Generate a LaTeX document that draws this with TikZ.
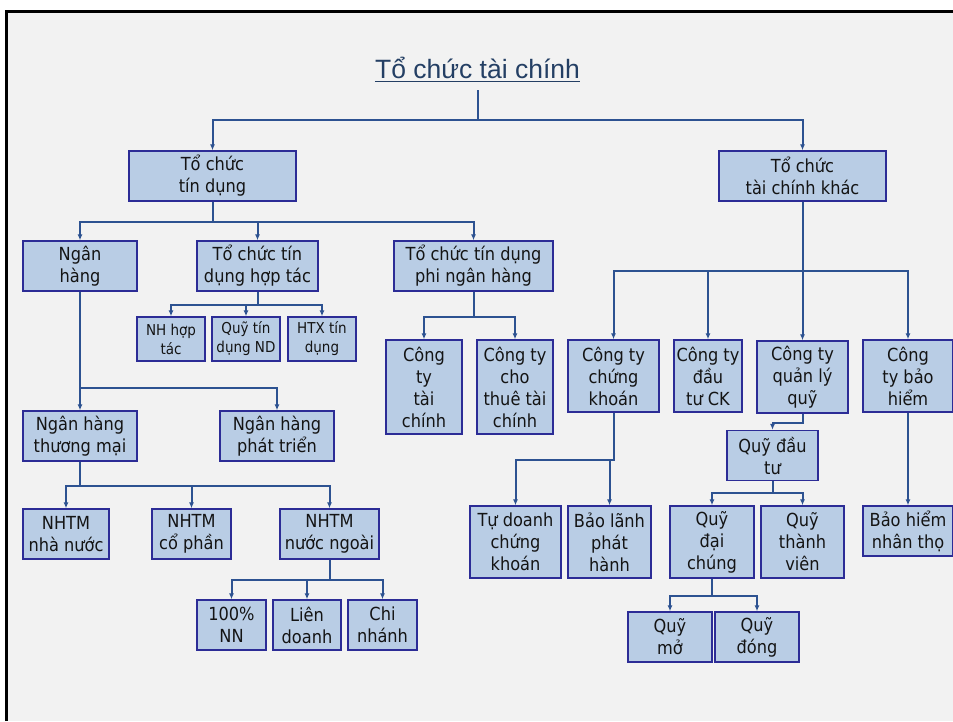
\documentclass[tikz,border=0pt]{standalone}
\usepackage{fontspec}
\setmainfont{DejaVu Sans Condensed}
\newfontfamily\titlefont{Liberation Sans}
\usetikzlibrary{arrows.meta}
\definecolor{bgc}{HTML}{F2F2F2}
\definecolor{boxfill}{HTML}{B9CDE5}
\definecolor{boxline}{RGB}{44,44,150}
\definecolor{conncol}{RGB}{45,82,145}
\definecolor{titlecol}{RGB}{36,63,100}
\definecolor{txtcol}{HTML}{141414}
\tikzset{
  box/.style={draw=boxline, line width=1.4pt, fill=boxfill, inner sep=0pt, align=center,
    text=txtcol, font=\fontsize{18}{22}\selectfont},
  sbox/.style={box, font=\fontsize{15}{19}\selectfont},
  conn/.style={draw=conncol, line width=2pt},
  arr/.style={conn, -{Latex[length=6pt,width=5pt]}}
}
\begin{document}
\begin{tikzpicture}[x=1pt,y=-1pt]
\useasboundingbox (0,0) rectangle (953,721);
\fill[white] (0,0) rectangle (953,721);
\fill[bgc] (6.5,11.5) rectangle (953,721);
\draw[line width=3pt] (6.5,721) -- (6.5,11.5) -- (953,11.5);

% title
\node[inner sep=0pt, anchor=base, text=titlecol, font=\titlefont\fontsize{26.5}{30}\selectfont] (title) at (477.5,78) {Tổ chức tài chính};
\draw[titlecol, line width=1.5pt] ([yshift=-3.5pt]title.base west) -- ([yshift=-3.5pt]title.base east);
\coordinate (t0) at (477.5,90);

% level 1
\node[box, minimum width=167pt, minimum height=50pt] (tctd) at (212.5,176) {Tổ chức\\tín dụng};
\node[box, minimum width=167pt, minimum height=50pt] (tctck) at (802.5,176) {Tổ chức\\tài chính khác};

% level 2 left
\node[box, minimum width=114pt, minimum height=50pt] (nh) at (80,266) {Ngân\\hàng};
\node[box, minimum width=121pt, minimum height=50pt] (tdht) at (257.5,266) {Tổ chức tín\\dụng hợp tác};
\node[box, minimum width=159pt, minimum height=50pt] (pnh) at (473.5,266) {Tổ chức tín dụng\\phi ngân hàng};

\node[sbox, minimum width=68pt, minimum height=44pt] (nhht) at (171,339) {NH hợp\\tác};
\node[sbox, minimum width=68pt, minimum height=44pt] (qtd) at (246,339) {Quỹ tín\\dụng ND};
\node[sbox, minimum width=68pt, minimum height=44pt] (htx) at (322,339) {HTX tín\\dụng};

\node[box, minimum width=114pt, minimum height=50pt] (nhtm) at (80,436) {Ngân hàng\\thương mại};
\node[box, minimum width=114pt, minimum height=50pt] (nhpt) at (277,436) {Ngân hàng\\phát triển};

\node[box, minimum width=86pt, minimum height=50pt] (nn) at (66,534) {NHTM\\nhà nước};
\node[box, minimum width=79pt, minimum height=50pt] (cp) at (191.5,534) {NHTM\\cổ phần};
\node[box, minimum width=99pt, minimum height=50pt] (ng) at (329.5,534) {NHTM\\nước ngoài};

\node[box, minimum width=69pt, minimum height=50pt] (n100) at (231.5,625) {100\%\\NN};
\node[box, minimum width=68pt, minimum height=50pt] (ld) at (307,625) {Liên\\doanh};
\node[box, minimum width=69pt, minimum height=50pt] (cn) at (382.5,625) {Chi\\nhánh};

\node[box, minimum width=76pt, minimum height=94pt] (cttc) at (424,387) {Công\\ty\\tài\\chính};
\node[box, minimum width=76pt, minimum height=94pt] (cttt) at (515,387) {Công ty\\cho\\thuê tài\\chính};

% right side
\node[box, minimum width=91pt, minimum height=72pt] (ctck) at (613.5,376) {Công ty\\chứng\\khoán};
\node[box, minimum width=68pt, minimum height=72pt] (ctdt) at (708,376) {Công ty\\đầu\\tư CK};
\node[box, minimum width=91pt, minimum height=72pt] (ctql) at (802.5,377) {Công ty\\quản lý\\quỹ};
\node[box, minimum width=90pt, minimum height=72pt] (ctbh) at (908,376) {Công\\ty bảo\\hiểm};

\node[box, minimum width=91pt, minimum height=72pt] (tdck) at (515.5,542) {Tự doanh\\chứng\\khoán};
\node[box, minimum width=83pt, minimum height=72pt] (blph) at (609.5,542) {Bảo lãnh\\phát\\hành};

\node[box, minimum width=91pt, minimum height=50pt] (qdt) at (772.5,455.5) {Quỹ đầu\\tư};
\node[box, minimum width=84pt, minimum height=72pt] (qdc) at (712,542) {Quỹ\\đại\\chúng};
\node[box, minimum width=83pt, minimum height=72pt] (qtv) at (802.5,542) {Quỹ\\thành\\viên};
\node[box, minimum width=84pt, minimum height=50pt] (qm) at (670,637) {Quỹ\\mở};
\node[box, minimum width=84pt, minimum height=50pt] (qd) at (757,637) {Quỹ\\đóng};

\node[box, minimum width=90pt, minimum height=50pt] (bhnt) at (908,531) {Bảo hiểm\\nhân thọ};

% connectors
\draw[arr] (t0) -- ++(0,30) -| (tctd.north);
\draw[arr] (t0) -- ++(0,30) -| (tctck.north);

\draw[arr] (tctd.south) -- ++(0,20) -| (nh.north);
\draw[arr] (tctd.south) -- ++(0,20) -| (tdht.north);
\draw[arr] (tctd.south) -- ++(0,20) -| (pnh.north);

\draw[arr] (tdht.south) -- ++(0,13) -| (nhht.north);
\draw[arr] (tdht.south) -- ++(0,13) -| (qtd.north);
\draw[arr] (tdht.south) -- ++(0,13) -| (htx.north);

\draw[arr] (nh.south) -- (nhtm.north);
\draw[arr] (nh.south) -- ++(0,96) -| (nhpt.north);

\draw[arr] (nhtm.south) -- ++(0,24) -| (nn.north);
\draw[arr] (nhtm.south) -- ++(0,24) -| (cp.north);
\draw[arr] (nhtm.south) -- ++(0,24) -| (ng.north);

\draw[arr] (ng.south) -- ++(0,20) -| (n100.north);
\draw[arr] (ng.south) -- ++(0,20) -| (ld.north);
\draw[arr] (ng.south) -- ++(0,20) -| (cn.north);

\draw[arr] (pnh.south) -- ++(0,25) -| (cttc.north);
\draw[arr] (pnh.south) -- ++(0,25) -| (cttt.north);

\draw[arr] (tctck.south) -- ++(0,69) -| (ctck.north);
\draw[arr] (tctck.south) -- ++(0,69) -| (ctdt.north);
\draw[arr] (tctck.south) -- ++(0,69) -| (ctql.north);
\draw[arr] (tctck.south) -- ++(0,69) -| (ctbh.north);

\draw[arr] (ctck.south) -- ++(0,47) -| (tdck.north);
\draw[arr] (ctck.south) -- ++(0,47) -| (blph.north);

\draw[arr] (ctql.south) -- ++(0,9) -| (qdt.north);

\draw[arr] (qdt.south) -- ++(0,12) -| (qdc.north);
\draw[arr] (qdt.south) -- ++(0,12) -| (qtv.north);

\draw[arr] (qdc.south) -- ++(0,17) -| (qm.north);
\draw[arr] (qdc.south) -- ++(0,17) -| (qd.north);

\draw[arr] (ctbh.south) -- (bhnt.north);
\end{tikzpicture}
\end{document}
